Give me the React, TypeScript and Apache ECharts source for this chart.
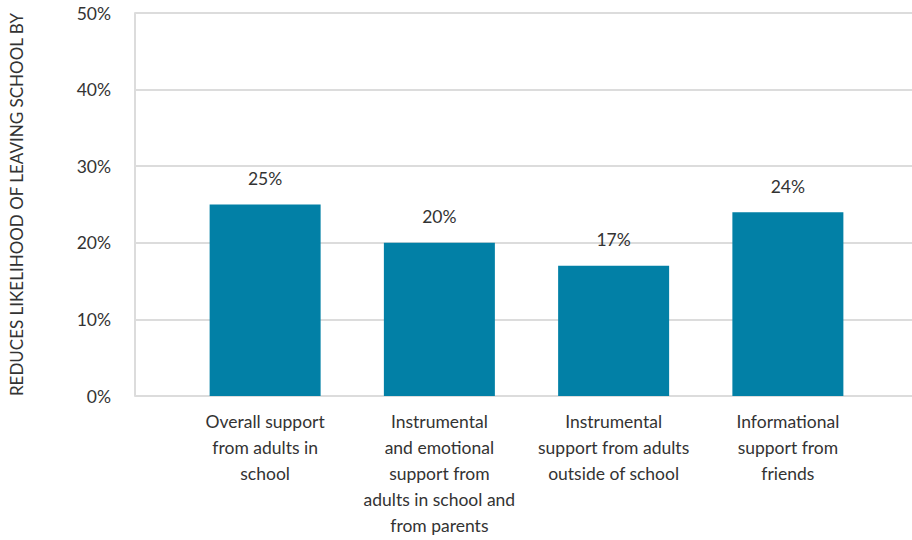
import React, { useEffect, useRef } from "react";
import * as echarts from "echarts";

const categories = [
  "Overall support\nfrom adults in\nschool",
  "Instrumental\nand emotional\nsupport from\nadults in school and\nfrom parents",
  "Instrumental\nsupport from adults\noutside of school",
  "Informational\nsupport from\nfriends",
];
const values = [25, 20, 17, 24];
const yAxisName = "REDUCES LIKELIHOOD OF LEAVING SCHOOL BY";
const yMin = 0;
const yMax = 50;
const yInterval = 10;

const FONT = "Lato, 'Open Sans', sans-serif";
const TEXT = "#333333";
const GRID_COLOR = "#dcdcdc";
const BAR_COLOR = "#0280a6";

export default function App() {
  const ref = useRef<HTMLDivElement>(null);
  useEffect(() => {
    if (!ref.current) return;
    const chart = echarts.init(ref.current, undefined, { renderer: "svg" });
    chart.setOption({
      animation: false,
      textStyle: { fontFamily: FONT },
      grid: [
        { left: 129, right: 0, top: 13, bottom: 144 },
        { left: 178, right: 37, top: 13, bottom: 144 },
      ],
      xAxis: [
        {
          type: "value",
          gridIndex: 0,
          show: true,
          min: 0,
          max: 1,
          axisLine: { show: false },
          axisTick: { show: false },
          axisLabel: { show: false },
          splitLine: { show: false },
        },
        {
          type: "category",
          gridIndex: 1,
          data: categories,
          axisLine: { show: false },
          axisTick: { show: false },
          axisLabel: {
            interval: 0,
            margin: 12,
            fontFamily: FONT,
            fontSize: 17.5,
            lineHeight: 26,
            color: TEXT,
            align: "center",
            verticalAlign: "top",
          },
        },
      ],
      yAxis: [
        {
          type: "value",
          gridIndex: 0,
          min: yMin,
          max: yMax,
          interval: yInterval,
          name: yAxisName,
          nameLocation: "middle",
          nameGap: 110,
          nameRotate: 90,
          nameTextStyle: { fontFamily: FONT, fontSize: 17, color: TEXT },
          axisLine: { show: true, lineStyle: { color: GRID_COLOR, width: 2 } },
          axisTick: { show: false },
          axisLabel: {
            formatter: "{value}%",
            margin: 24,
            fontFamily: FONT,
            fontSize: 17.5,
            color: TEXT,
          },
          splitLine: { show: true, lineStyle: { color: GRID_COLOR, width: 2 } },
        },
        {
          type: "value",
          gridIndex: 1,
          min: yMin,
          max: yMax,
          interval: yInterval,
          show: false,
          splitLine: { show: false },
        },
      ],
      series: [
        {
          type: "bar",
          xAxisIndex: 1,
          yAxisIndex: 1,
          data: values,
          barWidth: 111,
          itemStyle: { color: BAR_COLOR },
          label: {
            show: true,
            position: "top",
            distance: 17,
            formatter: "{c}%",
            fontFamily: FONT,
            fontSize: 17.5,
            color: TEXT,
          },
        },
      ],
    });
    return () => chart.dispose();
  }, []);
  return (
    <div
      ref={ref}
      style={{ position: "fixed", left: 0, top: 0, width: 912, height: 540, background: "#fff" }}
    />
  );
}
